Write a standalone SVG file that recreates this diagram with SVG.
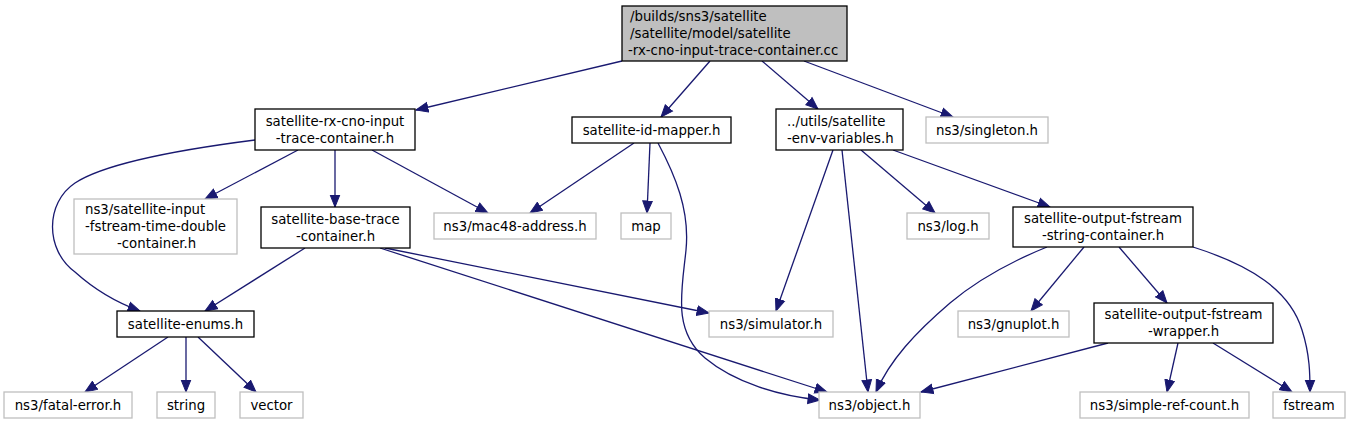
<svg xmlns="http://www.w3.org/2000/svg" width="1352" height="424" viewBox="0 0 1352 424">
<style>
.n rect{fill:#ffffff;stroke:#000000;stroke-width:1.3}
.g rect{fill:#ffffff;stroke:#bfbfbf;stroke-width:1.3}
.r rect{fill:#bfbfbf;stroke:#000000;stroke-width:1.3}
text{font-family:"DejaVu Sans","Liberation Sans",sans-serif;font-size:13.3px;fill:#000000}
.m{text-anchor:middle}
#edges path{fill:none;stroke:#191970;stroke-width:1.3;marker-end:url(#ah)}
</style>
<defs>
<marker id="ah" markerUnits="userSpaceOnUse" markerWidth="14" markerHeight="12" viewBox="0 -6 13 12" refX="12" refY="0" orient="auto">
<path d="M0,-4.8 L12,0 L0,4.8 Z" fill="#191970" stroke="#191970" stroke-width="1"/>
</marker>
</defs>
<rect width="1352" height="424" fill="#ffffff"/>
<g id="edges">
<path d="M622,61 L416,110"/>
<path d="M710,61 L661,117"/>
<path d="M762,61 L818,109"/>
<path d="M804,61 L953,117"/>
<path d="M255,140 C200,147 110,160 75,183 C45,203 45,250 75,272 C95,290 115,302 140,311"/>
<path d="M298,150 L205,199"/>
<path d="M335,150 L335,207"/>
<path d="M372,150 L488,213"/>
<path d="M634,143 L530,213"/>
<path d="M650,143 L647,213"/>
<path d="M658,143 C675,175 690,210 686,250 C682,290 672,330 705,358 C735,383 780,396 820,400"/>
<path d="M833,150 L776,311"/>
<path d="M842,150 L868,392"/>
<path d="M861,150 L935,213"/>
<path d="M893,150 L1050,207"/>
<path d="M305,248 L205,311"/>
<path d="M385,248 L709,313"/>
<path d="M380,248 L827,392"/>
<path d="M168,337 L85,392"/>
<path d="M186,337 L186,392"/>
<path d="M198,337 L256,392"/>
<path d="M1047,247 C1010,262 975,282 950,303 C915,333 890,360 876,392"/>
<path d="M1084,247 L1031,311"/>
<path d="M1119,247 L1167,303"/>
<path d="M1193,247 C1250,265 1290,290 1302,330 C1310,355 1310,375 1310,392"/>
<path d="M1108,343 L921,392"/>
<path d="M1178,343 L1167,392"/>
<path d="M1213,343 L1292,392"/>
</g>
<g id="root" class="r"><rect x="622" y="6" width="225" height="55"/>
<text x="630" y="21">/builds/sns3/satellite</text><text x="630" y="38">/satellite/model/satellite</text><text x="628" y="55">-rx-cno-input-trace-container.cc</text></g>
<g id="rxcno" class="n"><rect x="255" y="109" width="160" height="41"/>
<text class="m" x="335" y="125.5">satellite-rx-cno-input</text><text class="m" x="335" y="142.5">-trace-container.h</text></g>
<g id="mapper" class="n"><rect x="572" y="117" width="159" height="26"/>
<text class="m" x="651.5" y="134.5">satellite-id-mapper.h</text></g>
<g id="env" class="n"><rect x="776" y="109" width="127" height="41"/>
<text x="787" y="125.5">../utils/satellite</text><text x="787" y="142.5">-env-variables.h</text></g>
<g id="singleton" class="g"><rect x="926" y="117" width="122" height="26"/>
<text class="m" x="987" y="134.5">ns3/singleton.h</text></g>
<g id="inputfstream" class="g"><rect x="74" y="199" width="163" height="55"/>
<text x="85" y="214">ns3/satellite-input</text><text x="85" y="231">-fstream-time-double</text><text x="117" y="248">-container.h</text></g>
<g id="basetrace" class="n"><rect x="261" y="207" width="149" height="41"/>
<text class="m" x="335.5" y="223.5">satellite-base-trace</text><text class="m" x="335.5" y="240.5">-container.h</text></g>
<g id="mac48" class="g"><rect x="434" y="213" width="162" height="26"/>
<text class="m" x="515" y="230.5">ns3/mac48-address.h</text></g>
<g id="map" class="g"><rect x="621" y="213" width="50" height="26"/>
<text class="m" x="646" y="230.5">map</text></g>
<g id="log" class="g"><rect x="907" y="213" width="82" height="26"/>
<text class="m" x="948" y="230.5">ns3/log.h</text></g>
<g id="stringcontainer" class="n"><rect x="1013" y="207" width="180" height="40"/>
<text class="m" x="1103" y="223">satellite-output-fstream</text><text class="m" x="1103" y="240">-string-container.h</text></g>
<g id="enums" class="n"><rect x="117" y="311" width="137" height="26"/>
<text class="m" x="185.5" y="328.5">satellite-enums.h</text></g>
<g id="simulator" class="g"><rect x="709" y="311" width="124" height="26"/>
<text class="m" x="771" y="328.5">ns3/simulator.h</text></g>
<g id="gnuplot" class="g"><rect x="958" y="311" width="111" height="26"/>
<text class="m" x="1013.5" y="328.5">ns3/gnuplot.h</text></g>
<g id="wrapper" class="n"><rect x="1094" y="303" width="179" height="40"/>
<text class="m" x="1183.5" y="319">satellite-output-fstream</text><text class="m" x="1183.5" y="336">-wrapper.h</text></g>
<g id="fatalerror" class="g"><rect x="4" y="392" width="128" height="26"/>
<text class="m" x="68" y="409.5">ns3/fatal-error.h</text></g>
<g id="string" class="g"><rect x="157" y="392" width="58" height="26"/>
<text class="m" x="186" y="409.5">string</text></g>
<g id="vector" class="g"><rect x="240" y="392" width="63" height="26"/>
<text class="m" x="271.5" y="409.5">vector</text></g>
<g id="object" class="g"><rect x="819" y="392" width="101" height="26"/>
<text class="m" x="869.5" y="409.5">ns3/object.h</text></g>
<g id="simplerefcount" class="g"><rect x="1080" y="392" width="169" height="26"/>
<text class="m" x="1164.5" y="409.5">ns3/simple-ref-count.h</text></g>
<g id="fstream" class="g"><rect x="1273" y="392" width="72" height="26"/>
<text class="m" x="1309" y="409.5">fstream</text></g>
</svg>
